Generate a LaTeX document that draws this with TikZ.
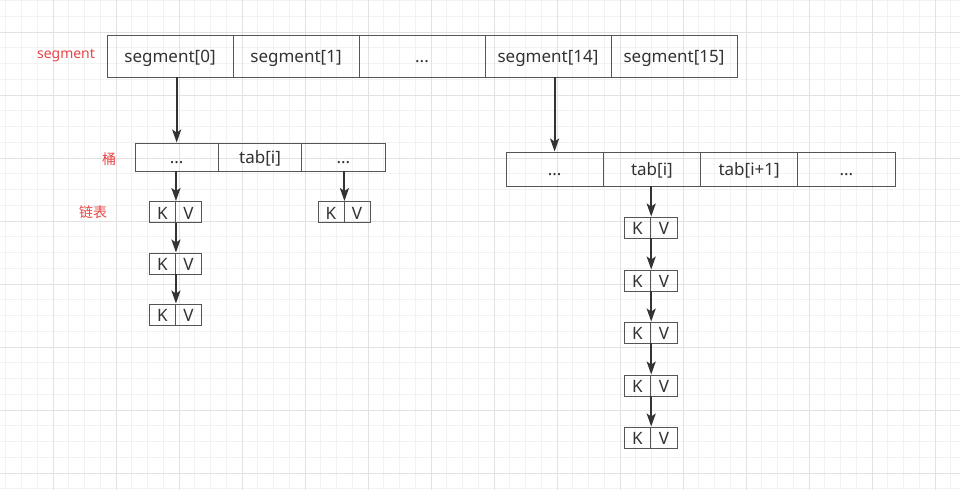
\documentclass[tikz,border=0pt]{standalone}
\usepackage{fontspec}
\setmainfont{Noto Sans}
\newfontfamily\cjk{Noto Sans CJK SC}
\usetikzlibrary{arrows.meta}
\definecolor{txt}{HTML}{333333}
\definecolor{bord}{HTML}{555555}
\definecolor{redlab}{HTML}{E84545}
\definecolor{gminor}{HTML}{F2F2F2}
\definecolor{gmajor}{HTML}{E2E2E2}
\tikzset{
  cell/.style={draw=bord, line width=0.9pt, text=txt, inner sep=0pt, text height=13pt, text depth=1pt, font=\fontsize{17}{20}\selectfont},
  topcell/.style={cell, minimum width=126pt, minimum height=42pt},
  lbucket/.style={cell, minimum width=83.33pt, minimum height=28pt},
  rbucket/.style={cell, minimum width=97.25pt, minimum height=34pt},
  kvl/.style={cell, minimum width=26pt, minimum height=21pt, text height=14pt, text depth=0pt},
  kvr/.style={cell, minimum width=26.5pt, minimum height=21pt, text height=14pt, text depth=0pt},
  lab/.style={text=redlab, inner sep=0pt, font=\fontsize{14}{16}\selectfont},
  arr/.style={draw=txt, line width=2pt, -{Stealth[length=13pt,width=9pt,inset=3pt]}},
  minorgrid/.style={draw=gminor, line width=0.8pt},
  majorgrid/.style={draw=gmajor, line width=0.9pt}
}
\begin{document}
\begin{tikzpicture}[x=1pt,y=-1pt]
\fill[white] (0,0) rectangle (960,490);
\useasboundingbox (0,0) rectangle (960,490);
% grid
\foreach \i in {-3,...,57} \draw[minorgrid] ({53+15.75*\i},0) -- ({53+15.75*\i},490);
\foreach \i in {-2,...,29} \draw[minorgrid] (0,{32+15.75*\i}) -- (960,{32+15.75*\i});
\foreach \i in {0,...,14} \draw[majorgrid] ({53+63*\i},0) -- ({53+63*\i},490);
\foreach \i in {0,...,7} \draw[majorgrid] (0,{32+63*\i}) -- (960,{32+63*\i});
% labels
\node[lab] (lseg) at (66,56) {segment};
\node[lab] (ltong) at (109,159) {\cjk 桶};
\node[lab] (llist) at (93,212) {\cjk 链表};
% top row
\node[topcell] (s0) at (170,56) {segment[0]};
\node[topcell] (s1) at (296,56) {segment[1]};
\node[topcell] (s2) at (422,56) {...};
\node[topcell] (s14) at (548,56) {segment[14]};
\node[topcell] (s15) at (674,56) {segment[15]};
% left bucket
\node[lbucket] (b1) at (176.67,157) {...};
\node[lbucket] (b2) at (260,157) {tab[i]};
\node[lbucket] (b3) at (343.33,157) {...};
% right bucket
\node[rbucket] (r1) at (554.6,169) {...};
\node[rbucket] (r2) at (651.9,169) {tab[i]};
\node[rbucket] (r3) at (749.1,169) {tab[i+1]};
\node[rbucket] (r4) at (846.4,169) {...};
% left KV chain
\node[kvl] (k1) at (162.5,212) {K}; \node[kvl] (v1) at (188.5,212) {V};
\node[kvl] (k2) at (162.5,263.5) {K}; \node[kvl] (v2) at (188.5,263.5) {V};
\node[kvl] (k3) at (162.5,314.5) {K}; \node[kvl] (v3) at (188.5,314.5) {V};
% right single KV
\node[kvl] (k4) at (331,212) {K}; \node[kvl] (v4) at (357,212) {V};
% right KV chain
\node[kvr] (m1) at (637.5,227.5) {K}; \node[kvr] (n1) at (664,227.5) {V};
\node[kvr] (m2) at (637.5,280.5) {K}; \node[kvr] (n2) at (664,280.5) {V};
\node[kvr] (m3) at (637.5,332.5) {K}; \node[kvr] (n3) at (664,332.5) {V};
\node[kvr] (m4) at (637.5,385.5) {K}; \node[kvr] (n4) at (664,385.5) {V};
\node[kvr] (m5) at (637.5,437.5) {K}; \node[kvr] (n5) at (664,437.5) {V};
% arrows
\draw[arr] (b1.north |- s0.south) -- (b1.north);
\draw[arr] (r1.north |- s14.south) -- (r1.north);
\draw[arr] (k1.north east |- b1.south) -- (k1.north east);
\draw[arr] (k1.south east) -- (k2.north east);
\draw[arr] (k2.south east) -- (k3.north east);
\draw[arr] (k4.north east |- b3.south) -- (k4.north east);
\draw[arr] (m1.north east |- r2.south) -- (m1.north east);
\draw[arr] (m1.south east) -- (m2.north east);
\draw[arr] (m2.south east) -- (m3.north east);
\draw[arr] (m3.south east) -- (m4.north east);
\draw[arr] (m4.south east) -- (m5.north east);
\end{tikzpicture}
\end{document}
